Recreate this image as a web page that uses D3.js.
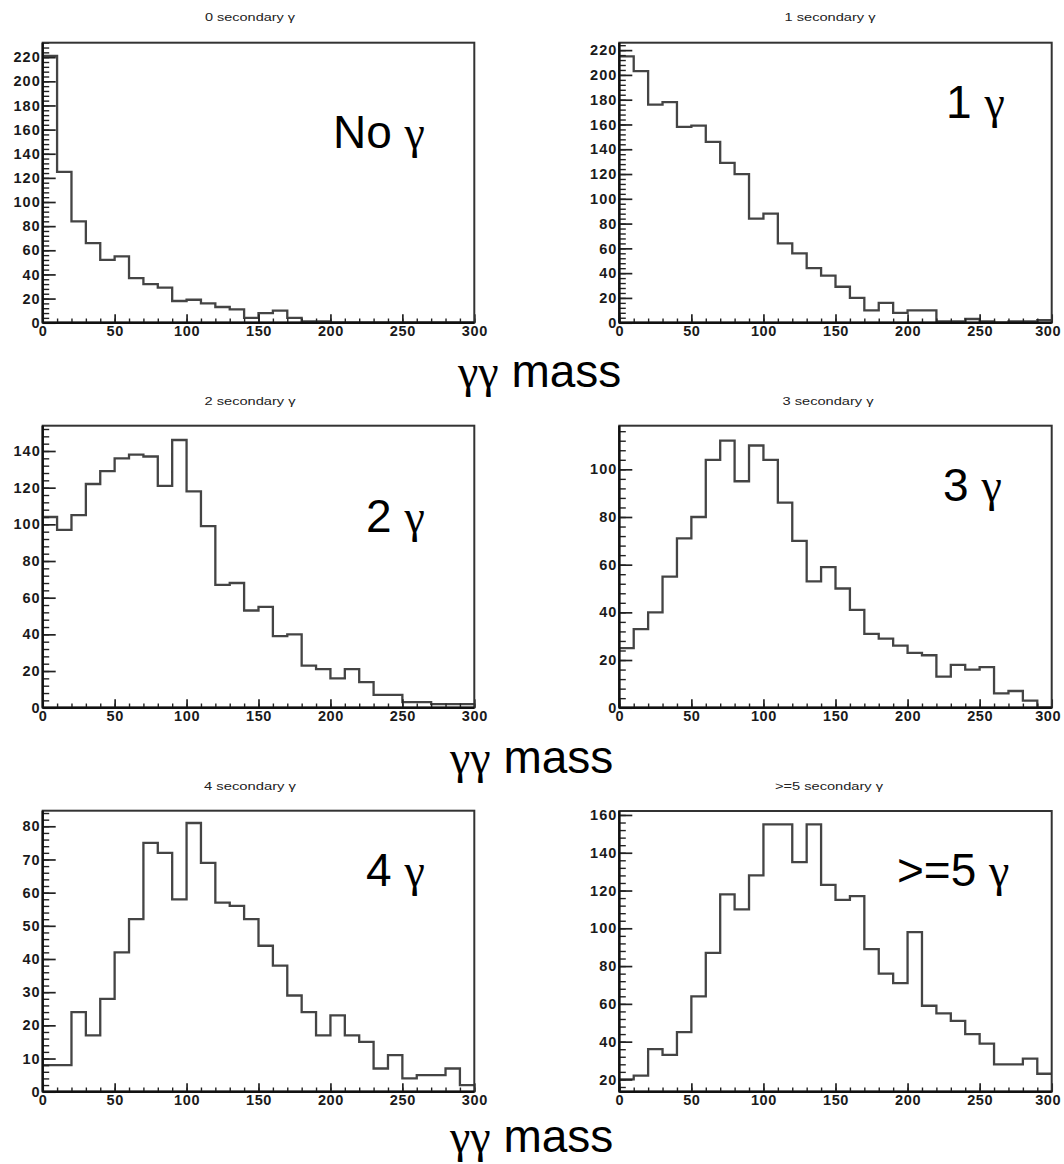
<!DOCTYPE html>
<html><head><meta charset="utf-8">
<script src="https://cdn.jsdelivr.net/npm/d3@7"></script>
<style>body{margin:0;background:#fff} svg{display:block}</style>
</head><body>
<svg id="c" width="1064" height="1164"></svg>
<script>
// ---------- data ----------
const binLow = [0,10,20,30,40,50,60,70,80,90,100,110,120,130,140,150,160,170,180,190,200,210,220,230,240,250,260,270,280,290];
const xMax = 300;
const xTicks = [0,50,100,150,200,250,300];
const titles = ["0 secondary \u03b3","1 secondary \u03b3","2 secondary \u03b3","3 secondary \u03b3","4 secondary \u03b3",">=5 secondary \u03b3"];
const labels = ["No","1","2","3","4",">=5"];
const axisTitle = "mass";

const counts0 = [221,125,84,66,52,55,37,32,29,18,19,16,13,11,4,8,10,4,1,1,0,0,0,0,0,0,0,0,0,0];
const counts1 = [215,203,176,178,158,159,146,129,120,84,88,64,56,44,38,29,20,10,16,8,10,10,1,1,3,1,0,1,1,2];
const counts2 = [104,97,105,122,129,136,138,137,121,146,118,99,67,68,53,55,39,40,23,21,16,21,14,7,7,3,3,2,2,2];
const counts3 = [25,33,40,55,71,80,104,112,95,110,104,86,70,53,59,50,41,31,29,26,23,22,13,18,16,17,6,7,3,0];
const counts4 = [8,8,24,17,28,42,52,75,72,58,81,69,57,56,52,44,38,29,24,17,23,17,15,7,11,4,5,5,7,2];
const counts5 = [20,22,36,33,45,64,87,118,110,128,155,155,135,155,123,115,117,89,76,71,98,59,55,51,44,39,28,28,31,23];

const yTicks0 = [0,20,40,60,80,100,120,140,160,180,200,220];
const yTicks1 = [0,20,40,60,80,100,120,140,160,180,200,220];
const yTicks2 = [0,20,40,60,80,100,120,140];
const yTicks3 = [0,20,40,60,80,100];
const yTicks4 = [0,10,20,30,40,50,60,70,80];
const yTicks5 = [20,40,60,80,100,120,140,160];

// ---------- layout ----------
const panels = [
  {c:counts0, t:yTicks0, minor:4, dom:[0,232],   x0:42.7,  x1:474.3,  y0:42.7,  y1:322.7, tx:250, ty:21,  tl:90,  lx:333, ly:148, right:false},
  {c:counts1, t:yTicks1, minor:4, dom:[0,226],   x0:619.3, x1:1051.7, y0:42.7,  y1:322.7, tx:830, ty:21,  tl:91,  lx:946, ly:118, right:true},
  {c:counts2, t:yTicks2, minor:4, dom:[0,153.8], x0:42.7,  x1:474.3,  y0:425.7, y1:707.7, tx:250, ty:405, tl:91,  lx:366, ly:532, right:false},
  {c:counts3, t:yTicks3, minor:4, dom:[0,118.3], x0:619.3, x1:1051.7, y0:425.7, y1:707.7, tx:828, ty:405, tl:91,  lx:943, ly:501, right:true},
  {c:counts4, t:yTicks4, minor:2, dom:[0,84.7],  x0:42.7,  x1:474.3,  y0:810.7, y1:1091.7,tx:250, ty:790, tl:92,  lx:366, ly:886, right:false},
  {c:counts5, t:yTicks5, minor:4, dom:[13.5,162.1],x0:619.3,x1:1051.7,y0:811,  y1:1091.7,tx:829, ty:790, tl:108, lx:897, ly:886, right:true}
];
const massPos = [{x:458,y:387},{x:450,y:773},{x:450,y:1152}];

const svg = d3.select("#c");
const sans = "'Liberation Sans', Arial, Helvetica, sans-serif";
const serif = "'Liberation Serif', 'Times New Roman', serif";

panels.forEach((p,i)=>{
  const g = svg.append("g");
  const x = d3.scaleLinear().domain([0,xMax]).range([p.x0,p.x1]);
  const y = d3.scaleLinear().domain(p.dom).range([p.y1,p.y0]);

  // histogram outline
  const pts = p.c.map((v,k)=>[binLow[k],v]);
  pts.push([xMax,p.c[p.c.length-1]]);
  const line = d3.line().x(d=>x(d[0])).y(d=>y(Math.max(d[1],p.dom[0]))).curve(d3.curveStepAfter);
  g.append("path").attr("d",line(pts)).attr("fill","none")
    .attr("stroke","#444").attr("stroke-width",2.3).attr("stroke-linejoin","miter");

  // minor y ticks
  const minorY = d3.range(Math.ceil(p.dom[0]/p.minor)*p.minor, p.dom[1]+0.001, p.minor);
  g.append("g").attr("transform",`translate(${p.x0},0)`)
    .call(d3.axisLeft(y).tickValues(minorY).tickSize(-6.5).tickFormat(""))
    .call(a=>a.select(".domain").remove())
    .call(a=>a.selectAll("line").attr("stroke","#222").attr("stroke-width",1.4));
  // major y ticks + labels
  g.append("g").attr("transform",`translate(${p.x0},0)`)
    .call(d3.axisLeft(y).tickValues(p.t).tickSize(-13).tickPadding(2).tickFormat(d3.format("d")))
    .call(a=>a.select(".domain").remove())
    .call(a=>a.selectAll("line").attr("stroke","#222").attr("stroke-width",1.7))
    .call(a=>a.selectAll("text").attr("font-family",sans).attr("font-weight","bold")
       .attr("font-size",14.5).attr("fill","#1a1a1a").attr("letter-spacing","1px"));

  // minor x ticks
  const minorX = binLow.concat([xMax]);
  g.append("g").attr("transform",`translate(0,${p.y1})`)
    .call(d3.axisBottom(x).tickValues(minorX).tickSize(-4.2).tickFormat(""))
    .call(a=>a.select(".domain").remove())
    .call(a=>a.selectAll("line").attr("stroke","#222").attr("stroke-width",1.4));
  g.append("g").attr("transform",`translate(0,${p.y1})`)
    .call(d3.axisBottom(x).tickValues(xTicks).tickSize(-8.4).tickPadding(3).tickFormat(d3.format("d")))
    .call(a=>a.select(".domain").remove())
    .call(a=>a.selectAll("line").attr("stroke","#222").attr("stroke-width",1.7))
    .call(a=>a.selectAll("text").attr("font-family",sans).attr("font-weight","bold")
       .attr("font-size",14.5).attr("fill","#1a1a1a").attr("letter-spacing","0.6px")
       .attr("dx",d=>(p.right && d===xMax) ? -4 : 0));

  // frame
  g.append("rect").attr("x",p.x0).attr("y",p.y0).attr("width",p.x1-p.x0).attr("height",p.y1-p.y0)
    .attr("fill","none").attr("stroke","#333").attr("stroke-width",2);
  g.append("line").attr("x1",p.x0).attr("x2",p.x0).attr("y1",p.y0).attr("y2",p.y1).attr("stroke","#111").attr("stroke-width",2.4);
  g.append("line").attr("x1",p.x0).attr("x2",p.x1).attr("y1",p.y1).attr("y2",p.y1).attr("stroke","#111").attr("stroke-width",2.4);

  // title
  const t = g.append("text").attr("x",p.tx).attr("y",p.ty).attr("text-anchor","middle")
    .attr("font-family",sans).attr("font-size",11).attr("fill","#222")
    .attr("textLength",p.tl).attr("lengthAdjust","spacingAndGlyphs");
  t.text(titles[i]);

  // big label
  const L = g.append("text").attr("x",p.lx).attr("y",p.ly).attr("font-size",46).attr("fill","#000");
  L.append("tspan").attr("font-family",sans).text(labels[i]+" ");
  L.append("tspan").attr("font-family",serif).text("\u03b3");
});

massPos.forEach(m=>{
  const T = svg.append("text").attr("x",m.x).attr("y",m.y).attr("font-size",46).attr("fill","#000");
  T.append("tspan").attr("font-family",serif).text("\u03b3\u03b3");
  T.append("tspan").attr("font-family",sans).text(" "+axisTitle);
});
</script>
</body></html>
